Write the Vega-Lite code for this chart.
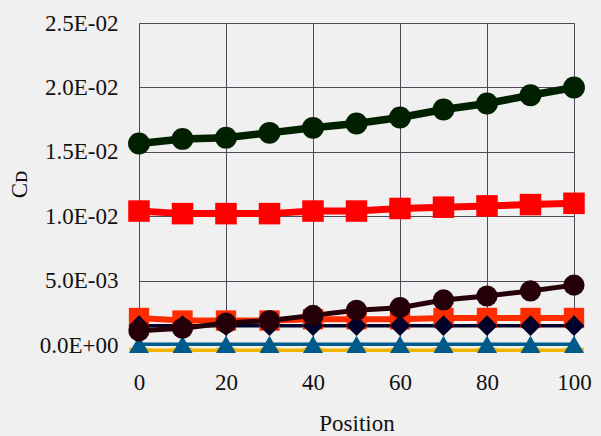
{
  "$schema": "https://vega.github.io/schema/vega-lite/v6.json",
  "width": 435,
  "height": 322,
  "autosize": "none",
  "padding": {"left": 139, "top": 23, "right": 27, "bottom": 91},
  "background": "#f0f0f0",
  "config": {
    "view": {"stroke": null},
    "font": "Liberation Serif"
  },
  "data": {
    "values": [
      {"x": 0, "cd": -0.0004, "s": "y"}, {"x": 10, "cd": -0.0004, "s": "y"}, {"x": 20, "cd": -0.0004, "s": "y"}, {"x": 30, "cd": -0.0004, "s": "y"}, {"x": 40, "cd": -0.0004, "s": "y"}, {"x": 50, "cd": -0.0004, "s": "y"}, {"x": 60, "cd": -0.0004, "s": "y"}, {"x": 70, "cd": -0.0004, "s": "y"}, {"x": 80, "cd": -0.0004, "s": "y"}, {"x": 90, "cd": -0.0004, "s": "y"}, {"x": 100, "cd": -0.0004, "s": "y"},
      {"x": 0, "cd": 0.00005, "s": "t"}, {"x": 10, "cd": 0.00005, "s": "t"}, {"x": 20, "cd": 0.00005, "s": "t"}, {"x": 30, "cd": 0.00005, "s": "t"}, {"x": 40, "cd": 0.00005, "s": "t"}, {"x": 50, "cd": 0.00005, "s": "t"}, {"x": 60, "cd": 0.00005, "s": "t"}, {"x": 70, "cd": 0.00005, "s": "t"}, {"x": 80, "cd": 0.00005, "s": "t"}, {"x": 90, "cd": 0.00005, "s": "t"}, {"x": 100, "cd": 0.00005, "s": "t"},
      {"x": 0, "cd": 0.0021, "s": "o"}, {"x": 10, "cd": 0.0019, "s": "o"}, {"x": 20, "cd": 0.0019, "s": "o"}, {"x": 30, "cd": 0.0019, "s": "o"}, {"x": 40, "cd": 0.0020, "s": "o"}, {"x": 50, "cd": 0.0020, "s": "o"}, {"x": 60, "cd": 0.0020, "s": "o"}, {"x": 70, "cd": 0.0021, "s": "o"}, {"x": 80, "cd": 0.0021, "s": "o"}, {"x": 90, "cd": 0.0021, "s": "o"}, {"x": 100, "cd": 0.0021, "s": "o"},
      {"x": 0, "cd": 0.0015, "s": "n"}, {"x": 10, "cd": 0.0015, "s": "n"}, {"x": 20, "cd": 0.0015, "s": "n"}, {"x": 30, "cd": 0.0015, "s": "n"}, {"x": 40, "cd": 0.0015, "s": "n"}, {"x": 50, "cd": 0.0015, "s": "n"}, {"x": 60, "cd": 0.0015, "s": "n"}, {"x": 70, "cd": 0.0015, "s": "n"}, {"x": 80, "cd": 0.0015, "s": "n"}, {"x": 90, "cd": 0.0015, "s": "n"}, {"x": 100, "cd": 0.0015, "s": "n"},
      {"x": 0, "cd": 0.0011, "s": "b"}, {"x": 10, "cd": 0.0013, "s": "b"}, {"x": 20, "cd": 0.0017, "s": "b"}, {"x": 30, "cd": 0.0019, "s": "b"}, {"x": 40, "cd": 0.0023, "s": "b"}, {"x": 50, "cd": 0.0027, "s": "b"}, {"x": 60, "cd": 0.0029, "s": "b"}, {"x": 70, "cd": 0.0035, "s": "b"}, {"x": 80, "cd": 0.0038, "s": "b"}, {"x": 90, "cd": 0.0042, "s": "b"}, {"x": 100, "cd": 0.00465, "s": "b"},
      {"x": 0, "cd": 0.0104, "s": "r"}, {"x": 10, "cd": 0.0102, "s": "r"}, {"x": 20, "cd": 0.0102, "s": "r"}, {"x": 30, "cd": 0.0102, "s": "r"}, {"x": 40, "cd": 0.0104, "s": "r"}, {"x": 50, "cd": 0.0104, "s": "r"}, {"x": 60, "cd": 0.0106, "s": "r"}, {"x": 70, "cd": 0.0107, "s": "r"}, {"x": 80, "cd": 0.0108, "s": "r"}, {"x": 90, "cd": 0.0109, "s": "r"}, {"x": 100, "cd": 0.0110, "s": "r"},
      {"x": 0, "cd": 0.01565, "s": "g"}, {"x": 10, "cd": 0.0160, "s": "g"}, {"x": 20, "cd": 0.0161, "s": "g"}, {"x": 30, "cd": 0.01647, "s": "g"}, {"x": 40, "cd": 0.01686, "s": "g"}, {"x": 50, "cd": 0.0172, "s": "g"}, {"x": 60, "cd": 0.01766, "s": "g"}, {"x": 70, "cd": 0.01828, "s": "g"}, {"x": 80, "cd": 0.01875, "s": "g"}, {"x": 90, "cd": 0.01939, "s": "g"}, {"x": 100, "cd": 0.01999, "s": "g"}
    ]
  },
  "encoding": {
    "x": {
      "field": "x", "type": "quantitative",
      "scale": {"domain": [0, 100], "nice": false, "zero": false},
      "axis": {
        "values": [0, 20, 40, 60, 80, 100],
        "title": "Position",
        "grid": true, "gridColor": "#4e4858", "gridOpacity": 1, "gridWidth": 1,
        "domain": false, "ticks": false, "labelFlush": false,
        "labelFont": "Liberation Serif", "labelFontSize": 23, "labelColor": "#111111",
        "labelPadding": 26,
        "titleFont": "Liberation Serif", "titleFontSize": 23, "titleFontWeight": "normal", "titleColor": "#111111",
        "titlePadding": 18
      }
    },
    "y": {
      "field": "cd", "type": "quantitative",
      "scale": {"domain": [0, 0.025], "nice": false, "zero": false},
      "axis": {
        "values": [0, 0.005, 0.01, 0.015, 0.02, 0.025],
        "labelExpr": "datum.value == 0 ? '0.0E+00' : datum.value < 0.0099 ? format(datum.value*1000, '.1f') + 'E-03' : format(datum.value*100, '.1f') + 'E-02'",
        "title": "Cᴅ",
        "grid": true, "gridColor": "#4e4858", "gridOpacity": 1, "gridWidth": 1,
        "domain": false, "ticks": false, "labelFlush": false,
        "labelFont": "Liberation Serif", "labelFontSize": 23, "labelColor": "#111111",
        "labelPadding": 21,
        "titleFont": "Liberation Serif", "titleFontSize": 23, "titleFontWeight": "normal", "titleColor": "#111111",
        "titlePadding": 8
      }
    },
    "color": {
      "field": "s", "type": "nominal", "legend": null,
      "scale": {"domain": ["y", "t", "o", "n", "b", "r", "g"], "range": ["#f0b400", "#005a8c", "#ff2c00", "#000028", "#260008", "#ff0000", "#002000"]}
    }
  },
  "layer": [
    {
      "transform": [{"filter": {"field": "s", "oneOf": ["y", "t", "n"]}}],
      "mark": {"type": "line", "clip": false, "strokeWidth": 3.5},
      "encoding": {"detail": {"field": "s"}}
    },
    {
      "transform": [{"filter": {"field": "s", "oneOf": ["o"]}}],
      "mark": {"type": "line", "clip": false, "strokeWidth": 6},
      "encoding": {"detail": {"field": "s"}}
    },
    {
      "transform": [{"filter": {"field": "s", "oneOf": ["b"]}}],
      "mark": {"type": "line", "clip": false, "strokeWidth": 5},
      "encoding": {"detail": {"field": "s"}}
    },
    {
      "transform": [{"filter": {"field": "s", "oneOf": ["r"]}}],
      "mark": {"type": "line", "clip": false, "strokeWidth": 7},
      "encoding": {"detail": {"field": "s"}}
    },
    {
      "transform": [{"filter": {"field": "s", "oneOf": ["g"]}}],
      "mark": {"type": "line", "clip": false, "strokeWidth": 7.5},
      "encoding": {"detail": {"field": "s"}}
    },
    {
      "mark": {"type": "point", "filled": true, "opacity": 1, "clip": false},
      "encoding": {
        "shape": {
          "field": "s", "type": "nominal", "legend": null,
          "scale": {"domain": ["y", "t", "o", "n", "b", "r", "g"], "range": ["M-1,-0.25L1,-0.25L1,0.25L-1,0.25Z", "triangle-up", "square", "diamond", "circle", "square", "circle"]}
        },
        "size": {
          "field": "s", "type": "nominal", "legend": null,
          "scale": {"domain": ["y", "t", "o", "n", "b", "r", "g"], "range": [380, 480, 680, 560, 520, 760, 680]}
        }
      }
    }
  ]
}
